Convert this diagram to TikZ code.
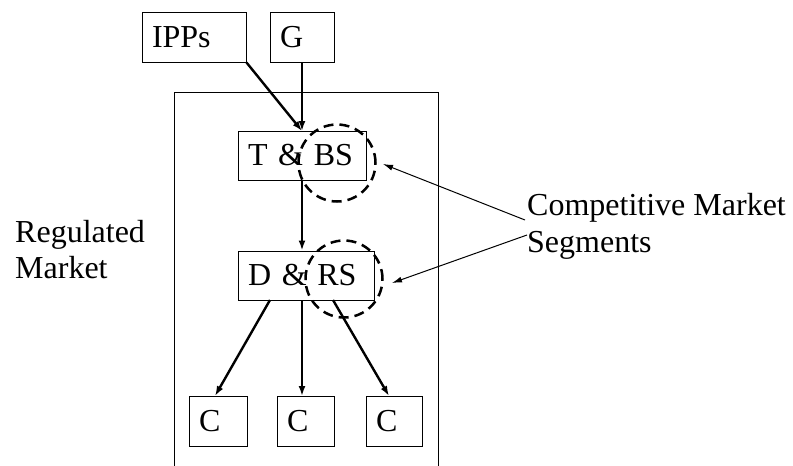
\documentclass[tikz,border=0pt]{standalone}
\usepackage{fontspec}
\setmainfont{Liberation Serif}
\usetikzlibrary{arrows.meta,calc}
\begin{document}
\begin{tikzpicture}[x=1pt,y=-1pt,
  box/.style={draw,line width=1pt,inner xsep=10pt,inner ysep=0pt,align=left,minimum height=50pt,font=\fontsize{32}{37}\selectfont},
  flow/.style={line width=2.4pt,-{Latex[length=10pt,width=7pt]}},
  pointer/.style={line width=1pt,-{Latex[length=10pt,width=6pt]}},
  seg/.style={draw,circle,dashed,line width=2.5pt,dash pattern=on 10pt off 6pt,minimum size=77pt,inner sep=0pt},
  lbl/.style={inner sep=0pt,anchor=base west,font=\fontsize{32}{37}\selectfont}]
\useasboundingbox (0,0) rectangle (793,466);
\fill[white] (0,0) rectangle (793,466);
% regulated market frame
\draw[line width=1pt] (174,470) -- (174,92) -- (438,92) -- (438,470);
% boxes
\node[box,text width=84pt] (ipps) at (194,37) {IPPs};
\node[box,text width=44pt] (g) at (302,37) {G};
\node[box,text width=108pt,minimum height=49pt] (tbs) at (302,155.5) {T \& BS};
\node[box,text width=116pt,minimum height=49pt] (drs) at (306,275.5) {D \& RS};
\node[box,text width=38pt] (c1) at (218,421) {C};
\node[box,text width=37pt] (c2) at (305.5,421) {C};
\node[box,text width=36pt] (c3) at (394,421) {C};
% dashed circles
\node[seg] (s1) at (337,163) {};
\node[seg] (s2) at (344,279) {};
% labels
\node[lbl] (reg1) at (15,242) {Regulated};
\node[lbl] (reg2) at (15,278) {Market};
\node[lbl] (cm1) at (527,215) {Competitive Market};
\node[lbl] (cm2) at (527,252) {Segments};
% connector points
\coordinate (tin) at (302,131);
\coordinate (dsl) at (270,300);
\coordinate (dsm) at (302,300);
\coordinate (dsr) at (333,300);
\coordinate (c1t) at (215,396);
\coordinate (c2t) at (302,396);
\coordinate (c3t) at (389,396);
\coordinate (p1) at (525,220);
\coordinate (p2) at (527,235);
\coordinate (t1) at (383,164);
\coordinate (t2) at (392,283);
% flows
\draw[flow] (g.south) -- (tin);
\draw[flow] (ipps.south east) -- (tin);
\draw[flow] (tbs.south) -- (tbs.south |- drs.north);
\draw[flow] (dsl) -- (c1t);
\draw[flow] (dsm) -- (c2t);
\draw[flow] (dsr) -- (c3t);
% pointers
\draw[pointer] (p1) -- (t1);
\draw[pointer] (p2) -- (t2);
\end{tikzpicture}
\end{document}
